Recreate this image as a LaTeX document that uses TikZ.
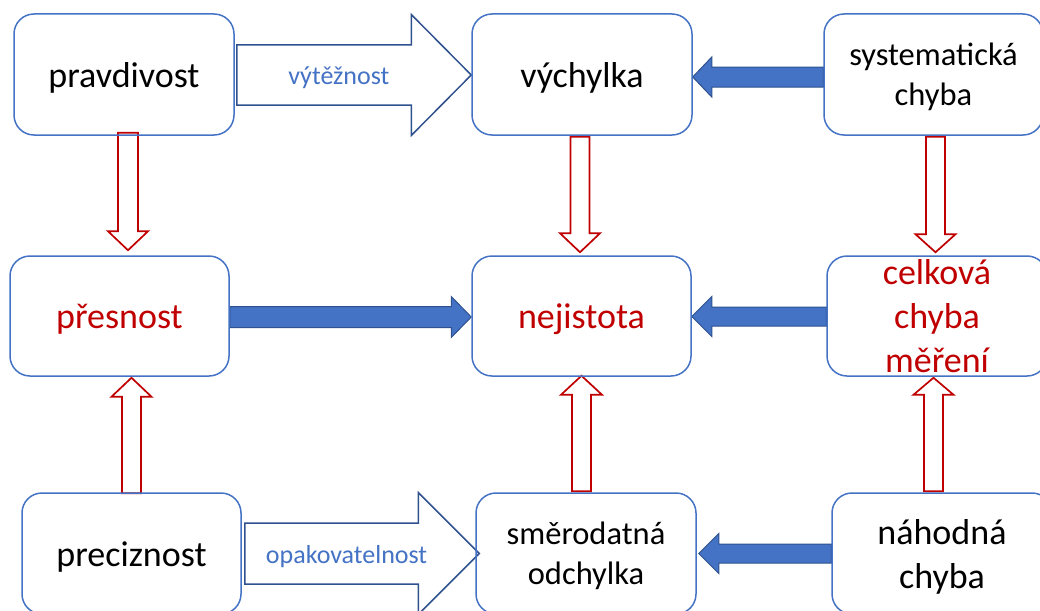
\documentclass[tikz,border=0pt]{standalone}
\usepackage{fontspec}
\setmainfont{Carlito}
\usetikzlibrary{calc}
\pgfdeclarelayer{background}
\pgfsetlayers{background,main}
\definecolor{boxblue}{HTML}{4472C4}
\definecolor{darkblue}{HTML}{2F528F}
\definecolor{txtred}{HTML}{C00000}
\newcommand\bstr{\rule[-9.5pt]{0pt}{44pt}}
\newcommand\sstr{\rule[-8.6pt]{0pt}{40pt}}
% #1 style, #2 start, #3 tip, #4 shaft half width, #5 head half width, #6 head length
\newcommand\blockarrow[6]{%
  \path (#3) coordinate (ba-t) (#2) coordinate (ba-s);
  \path ($(ba-t)!#6!(ba-s)$) coordinate (ba-b);
  \draw[#1] ($(ba-s)!#4!90:(ba-t)$) -- ($(ba-b)!#4!-90:(ba-s)$)
    -- ($(ba-b)!#5!-90:(ba-s)$) -- (ba-t) -- ($(ba-b)!#5!90:(ba-s)$)
    -- ($(ba-b)!#4!90:(ba-s)$) -- ($(ba-s)!#4!-90:(ba-t)$) -- cycle;
}
\begin{document}
\begin{tikzpicture}[x=1pt,y=-1pt,
  box/.style={draw=boxblue, line width=1.5pt, rounded corners=20pt,
    minimum width=220pt, minimum height=121pt, inner sep=0pt, align=center},
  bigtxt/.style={font=\fontsize{36}{44}\selectfont, align=center},
  smalltxt/.style={font=\fontsize{32.5}{40}\selectfont, align=center},
  redtxt/.style={text=txtred},
  lbl/.style={font=\fontsize{26}{32}\selectfont, text=boxblue, inner sep=0pt},
  outarrow/.style={draw=darkblue, fill=white, line width=1.5pt, line join=miter},
  bluearrow/.style={draw=darkblue, fill=boxblue, line width=1pt, line join=miter},
  redarrow/.style={draw=txtred, fill=white, line width=1.7pt, line join=miter}]
\useasboundingbox (0,0) rectangle (1040,610);
\clip (0,0) rectangle (1040,610);

% boxes
\node[box, bigtxt] (pravdivost) at (124,74.5) {\bstr pravdivost};
\node[box, bigtxt] (vychylka) at (582,74.5) {\bstr výchylka};
\node[box, smalltxt, minimum width=219pt] (systematicka) at (933.5,74.5) {\sstr systematická\\\sstr chyba};
\node[box, bigtxt, redtxt, minimum width=219pt, minimum height=120pt] (presnost) at (119.5,316) {\bstr přesnost};
\node[box, bigtxt, redtxt, minimum width=219pt, minimum height=120pt] (nejistota) at (581.5,316) {\bstr nejistota};
\node[box, minimum height=120pt] (celkova) at (937,316) {};
\node[bigtxt, redtxt, inner sep=0pt] (celkovatext) at (celkova.center) {\bstr celková\\\bstr chyba\\\bstr měření};
\node[box, bigtxt, minimum width=219pt] (preciznost) at (131.5,553.5) {\bstr preciznost};
\node[box, smalltxt] (smerodatna) at (586,553.5) {\sstr směrodatná\\\sstr odchylka};
\node[box, bigtxt] (nahodna) at (942,553.5) {\bstr náhodná\\\bstr chyba};

% arrows
\begin{pgfonlayer}{background}
\blockarrow{outarrow}{$(pravdivost.east)+(2,0.5)$}{$(vychylka.west)+(0,0.5)$}{30pt}{60.5pt}{60pt}
\blockarrow{outarrow}{$(preciznost.east)+(3,0)$}{$(smerodatna.west)+(4,0)$}{30.5pt}{61pt}{61pt}

\blockarrow{bluearrow}{$(systematicka.west)+(0,2.5)$}{$(vychylka.east)+(0,2.5)$}{10pt}{20pt}{19pt}
\blockarrow{bluearrow}{$(presnost.east)+(0,1)$}{$(nejistota.west)+(0,1)$}{10.5pt}{20.5pt}{20pt}
\blockarrow{bluearrow}{$(celkova.west)+(0,0.5)$}{$(nejistota.east)+(0,0.5)$}{9.5pt}{20pt}{20pt}
\blockarrow{bluearrow}{$(nahodna.west)$}{$(smerodatna.east)+(2,0)$}{9.5pt}{20pt}{20pt}

\blockarrow{redarrow}{$(pravdivost.south)+(4,-3)$}{$(presnost.north)+(8.5,-5)$}{10pt}{20pt}{19pt}
\blockarrow{redarrow}{$(preciznost.north)+(0,1)$}{$(presnost.south)+(12,1)$}{9.5pt}{20pt}{19pt}
\blockarrow{redarrow}{$(vychylka.south)+(-2,1)$}{$(nejistota.north)+(-1.5,-3)$}{9.5pt}{20pt}{19pt}
\blockarrow{redarrow}{$(smerodatna.north)+(-4.5,-1)$}{$(nejistota.south)+(0,-1)$}{9.5pt}{20.5pt}{19pt}
\blockarrow{redarrow}{$(systematicka.south)+(2,1)$}{$(celkova.north)+(-1.5,-3)$}{9.5pt}{20pt}{18pt}
\blockarrow{redarrow}{$(nahodna.north)+(-8.5,-1)$}{$(celkova.south)+(-3.5,1)$}{9.5pt}{20pt}{17pt}
\end{pgfonlayer}

% arrow labels
\node[lbl, anchor=base] (vytez) at ($(pravdivost.east)!0.44!(vychylka.west)+(0,10)$) {výtěžnost};
\node[lbl, anchor=base] (opak) at ($(preciznost.east)!0.449!(smerodatna.west)+(0,9.5)$) {opakovatelnost};
\end{tikzpicture}
\end{document}
